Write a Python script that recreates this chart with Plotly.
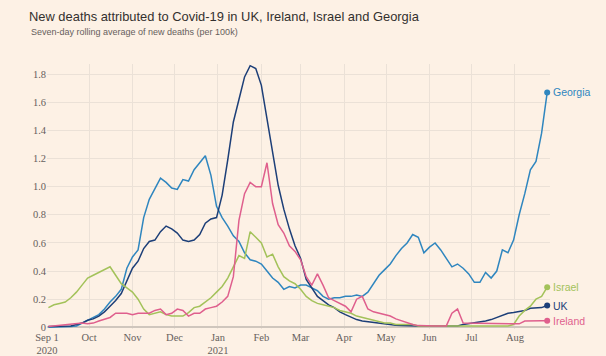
import pandas as pd
import plotly.graph_objects as go

# Dates: every 4 days from 2 Sep 2020 to 24 Aug 2021
dates = pd.date_range("2020-09-02", periods=90, freq="4D")

georgia = [0, 0, 0, 0, 0.005, 0.01, 0.03, 0.05, 0.07, 0.09,
           0.13, 0.18, 0.22, 0.27, 0.42, 0.50, 0.55, 0.78, 0.91, 0.98,
           1.06, 1.03, 0.99, 0.98, 1.05, 1.04, 1.12, 1.17, 1.22, 1.08,
           0.86, 0.78, 0.72, 0.65, 0.61, 0.53, 0.48, 0.47, 0.45, 0.40,
           0.35, 0.32, 0.27, 0.29, 0.28, 0.30, 0.30, 0.28, 0.26, 0.22,
           0.20, 0.21, 0.21, 0.22, 0.22, 0.23, 0.22, 0.25, 0.31, 0.37,
           0.41, 0.45, 0.51, 0.56, 0.60, 0.66, 0.64, 0.53, 0.57, 0.60,
           0.55, 0.49, 0.43, 0.45, 0.42, 0.38, 0.32, 0.32, 0.39, 0.35,
           0.40, 0.55, 0.53, 0.62, 0.80, 0.95, 1.12, 1.18, 1.38, 1.67]

uk = [0.005, 0.005, 0.005, 0.005, 0.01, 0.02, 0.03, 0.05, 0.06, 0.08,
      0.11, 0.15, 0.19, 0.24, 0.33, 0.42, 0.47, 0.56, 0.61, 0.62,
      0.68, 0.72, 0.70, 0.67, 0.62, 0.61, 0.62, 0.66, 0.74, 0.77,
      0.78, 0.94, 1.19, 1.46, 1.62, 1.78, 1.86, 1.84, 1.72, 1.48,
      1.26, 1.01, 0.84, 0.70, 0.58, 0.49, 0.34, 0.28, 0.22, 0.19,
      0.16, 0.14, 0.11, 0.09, 0.07, 0.055, 0.045, 0.04, 0.03, 0.025,
      0.02, 0.02, 0.015, 0.012, 0.01, 0.01, 0.01, 0.01, 0.01, 0.01,
      0.01, 0.01, 0.01, 0.01, 0.02, 0.025, 0.03, 0.035, 0.045, 0.055,
      0.07, 0.09, 0.10, 0.105, 0.11, 0.12, 0.135, 0.14, 0.14, 0.155]

israel = [0.14, 0.16, 0.17, 0.18, 0.21, 0.25, 0.30, 0.35, 0.37, 0.39,
          0.41, 0.43, 0.37, 0.31, 0.28, 0.25, 0.20, 0.13, 0.09, 0.10,
          0.11, 0.09, 0.08, 0.08, 0.08, 0.105, 0.14, 0.15, 0.18, 0.21,
          0.25, 0.29, 0.35, 0.43, 0.51, 0.49, 0.68, 0.64, 0.60, 0.50,
          0.52, 0.43, 0.36, 0.33, 0.31, 0.27, 0.22, 0.19, 0.17, 0.16,
          0.15, 0.14, 0.12, 0.11, 0.10, 0.08, 0.07, 0.06, 0.05, 0.04,
          0.03, 0.03, 0.02, 0.02, 0.02, 0.02, 0.01, 0.01, 0.01, 0.01,
          0.01, 0.01, 0.01, 0.01, 0.01, 0.01, 0.01, 0.01, 0.01, 0.01,
          0.01, 0.01, 0.01, 0.02, 0.08, 0.12, 0.15, 0.20, 0.22, 0.285]

ireland = [0.005, 0.01, 0.015, 0.02, 0.025, 0.03, 0.03, 0.025, 0.03, 0.045,
           0.055, 0.07, 0.10, 0.10, 0.10, 0.09, 0.10, 0.10, 0.10, 0.12,
           0.13, 0.09, 0.10, 0.13, 0.12, 0.08, 0.10, 0.10, 0.13, 0.14,
           0.15, 0.18, 0.22, 0.36, 0.76, 0.95, 1.03, 1.00, 1.00, 1.17,
           0.88, 0.73, 0.67, 0.58, 0.54, 0.48, 0.36, 0.30, 0.38, 0.30,
           0.21, 0.19, 0.17, 0.15, 0.11, 0.20, 0.22, 0.13, 0.11, 0.10,
           0.09, 0.08, 0.06, 0.045, 0.03, 0.02, 0.012, 0.01, 0.01, 0.01,
           0.01, 0.01, 0.10, 0.13, 0.03, 0.03, 0.03, 0.03, 0.03, 0.025,
           0.025, 0.025, 0.025, 0.025, 0.025, 0.045, 0.047, 0.047, 0.047, 0.047]

series = [
    ("Georgia", georgia, "#2f86bf"),
    ("UK", uk, "#1d3f78"),
    ("Israel", israel, "#a3c25a"),
    ("Ireland", ireland, "#df5f8d"),
]

tick_dates = ["2020-09-01", "2020-10-01", "2020-11-01", "2020-12-01", "2021-01-01",
              "2021-02-01", "2021-03-01", "2021-04-01", "2021-05-01", "2021-06-01",
              "2021-07-01", "2021-08-01"]
tick_labels = ["Sep 1<br>2020", "Oct", "Nov", "Dec", "Jan<br>2021", "Feb", "Mar",
               "Apr", "May", "Jun", "Jul", "Aug"]
y_ticks = [0, 0.2, 0.4, 0.6, 0.8, 1.0, 1.2, 1.4, 1.6, 1.8]
y_labels = ["0", "0.2", "0.4", "0.6", "0.8", "1.0", "1.2", "1.4", "1.6", "1.8"]

fig = go.Figure()
for name, vals, col in series:
    fig.add_trace(go.Scatter(x=dates, y=vals, mode="lines", name=name,
                             line=dict(color=col, width=1.5), showlegend=False,
                             cliponaxis=False))
for name, vals, col in series:
    fig.add_trace(go.Scatter(x=[dates[-1]], y=[vals[-1]], mode="markers",
                             marker=dict(color=col, size=6), showlegend=False,
                             cliponaxis=False))
    fig.add_annotation(x=dates[-1], y=vals[-1], text=name, showarrow=False,
                       xanchor="left", yanchor="middle", xshift=4,
                       font=dict(family="Liberation Sans, Arial, sans-serif",
                                 size=10.5, color=col))

fig.add_annotation(xref="paper", yref="paper", x=-0.036, y=1.121,
                   text="Seven-day rolling average of new deaths (per 100k)",
                   showarrow=False, xanchor="left", yanchor="middle",
                   font=dict(family="Liberation Sans, Arial, sans-serif", size=9,
                             color="#66605c"))

fig.update_layout(
    width=606, height=356,
    paper_bgcolor="#fdf1e5", plot_bgcolor="#fdf1e5",
    margin=dict(l=47, r=56, t=64, b=27),
    title=dict(text="New deaths attributed to Covid-19 in UK, Ireland, Israel and Georgia",
               x=29 / 606, xanchor="left", xref="container",
               y=1 - 16 / 356, yanchor="middle", yref="container",
               font=dict(family="Liberation Sans, Arial, sans-serif", size=12.9,
                         color="#33302e")),
    xaxis=dict(range=["2020-09-01", "2021-08-26"], tickvals=tick_dates,
               ticktext=tick_labels, showgrid=True, gridcolor="#ebe1d7",
               gridwidth=1, zeroline=False, showline=False, ticks="",
               automargin=False,
               tickfont=dict(family="Liberation Serif, Times New Roman, serif",
                             size=10.5, color="#66605c")),
    yaxis=dict(range=[-0.012, 1.872], tickvals=y_ticks, ticktext=y_labels,
               showgrid=True, gridcolor="#ebe1d7", gridwidth=1,
               zeroline=True, zerolinecolor="#cfc6bd", zerolinewidth=2,
               showline=False, ticks="", automargin=False,
               tickfont=dict(family="Liberation Serif, Times New Roman, serif",
                             size=10.5, color="#66605c")),
)

fig.write_html("out.html", config={"displayModeBar": False},
               post_script="document.body.style.margin='0';")
